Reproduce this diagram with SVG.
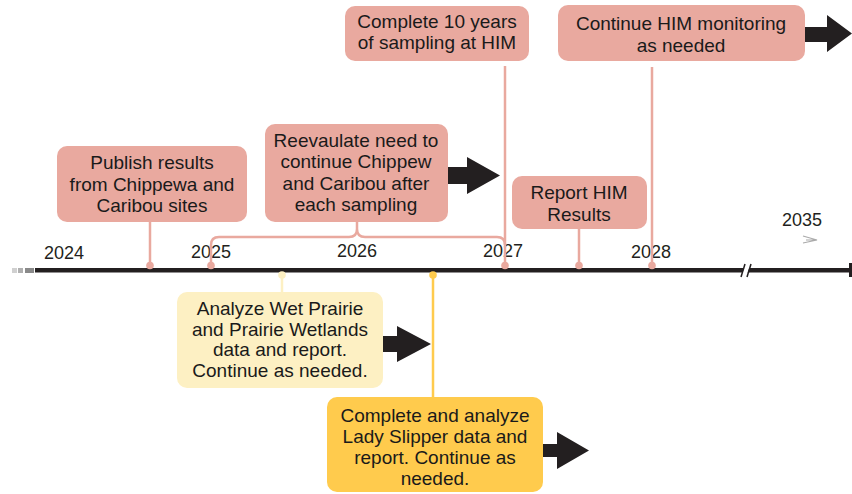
<svg xmlns="http://www.w3.org/2000/svg" width="852" height="494" viewBox="0 0 852 494">
<style>
  .t{font-family:"Liberation Sans",Arial,sans-serif;font-size:19px;fill:#1a1a1a;text-anchor:middle}
  .yr{font-family:"Liberation Sans",Arial,sans-serif;font-size:18px;fill:#231f20;text-anchor:middle}
  .pk{fill:#e9a99f}
  .ly{fill:#fdf0c3}
  .gd{fill:#ffcb4d}
  .pl{fill:none;stroke:#e9a99f;stroke-width:2.5}
  .arr{fill:#231f20}
</style>
<rect width="852" height="494" fill="#fff"/>
<g id="timeline">
  <rect x="12" y="268" width="5" height="5" fill="#d0d0d0"/>
  <rect x="18" y="268" width="5" height="5" fill="#b0b0b0"/>
  <rect x="25" y="268" width="9" height="5" fill="#8a8a8a"/>
  <rect x="35" y="268" width="815" height="4.5" fill="#231f20"/>
  <rect x="849" y="263" width="3" height="14" fill="#231f20"/>
  <polygon points="741,277 746,263 751,263 746,277" fill="#fff"/>
  <line x1="741" y1="277" x2="745" y2="264" stroke="#231f20" stroke-width="1.5"/>
  <line x1="747" y1="277" x2="751" y2="264" stroke="#231f20" stroke-width="1.5"/>
  <text class="yr" x="64" y="259">2024</text>
  <text class="yr" x="211" y="258">2025</text>
  <text class="yr" x="357" y="257">2026</text>
  <text class="yr" x="503" y="257">2027</text>
  <text class="yr" x="651" y="258">2028</text>
  <text class="yr" x="802" y="226">2035</text>
  <path d="M803,236 L817,240 L803,243 M806,240 H817" fill="none" stroke="#aaa" stroke-width="1.2"/>
</g>
<g id="connectors">
  <line class="pl" x1="150" y1="222" x2="150" y2="265"/>
  <path class="pl" d="M211,266 V245 Q211,237 219,237 H349 Q357,237 357,229 V222 M357,229 Q357,237 365,237 H497 Q505,237 505,245"/>
  <line class="pl" x1="505" y1="66" x2="505" y2="265"/>
  <line class="pl" x1="579" y1="229" x2="579" y2="265"/>
  <line class="pl" x1="652" y1="67" x2="652" y2="265"/>
  <line x1="282" y1="275" x2="282" y2="292" stroke="#fdf0c3" stroke-width="2.5"/>
  <line x1="433" y1="275" x2="433" y2="397" stroke="#ffcb4d" stroke-width="2.5"/>
  <circle class="pk" cx="150" cy="265.5" r="3.8"/>
  <circle class="pk" cx="211" cy="265.5" r="3.8"/>
  <circle class="pk" cx="505" cy="265.5" r="3.8"/>
  <circle class="pk" cx="579" cy="265.5" r="3.8"/>
  <circle class="pk" cx="652" cy="265.5" r="3.8"/>
  <circle class="ly" cx="282" cy="275" r="3.8"/>
  <circle class="gd" cx="433" cy="275" r="3.8"/>
</g>
<g id="publish">
  <rect class="pk" x="57" y="146" width="190" height="76" rx="10"/>
  <text class="t" x="152" y="169">Publish results</text>
  <text class="t" x="152" y="191">from Chippewa and</text>
  <text class="t" x="152" y="212">Caribou sites</text>
</g>
<g id="reevaluate">
  <rect class="pk" x="265" y="124" width="183" height="98" rx="10"/>
  <text class="t" x="356" y="147">Reevaulate need to</text>
  <text class="t" x="356" y="168">continue Chippew</text>
  <text class="t" x="356" y="190">and Caribou after</text>
  <text class="t" x="356" y="211">each sampling</text>
  <polygon class="arr" points="448,167 467,167 467,157 500,175.5 467,194 467,184 448,184"/>
</g>
<g id="complete10">
  <rect class="pk" x="345" y="6" width="184" height="55" rx="10"/>
  <text class="t" x="437" y="28">Complete 10 years</text>
  <text class="t" x="437" y="49">of sampling at HIM</text>
</g>
<g id="continueHIM">
  <rect class="pk" x="558" y="5" width="247" height="56" rx="10"/>
  <text class="t" x="681" y="30">Continue HIM monitoring</text>
  <text class="t" x="681" y="52">as needed</text>
  <polygon class="arr" points="805,27 827,27 827,15 852,33.5 827,52 827,42 805,42"/>
</g>
<g id="reportHIM">
  <rect class="pk" x="512" y="176" width="135" height="53" rx="10"/>
  <text class="t" x="579" y="199">Report HIM</text>
  <text class="t" x="579" y="221">Results</text>
</g>
<g id="wetprairie">
  <rect class="ly" x="177" y="292" width="206" height="96" rx="10"/>
  <text class="t" x="280" y="315">Analyze Wet Prairie</text>
  <text class="t" x="280" y="336">and Prairie Wetlands</text>
  <text class="t" x="280" y="356">data and report.</text>
  <text class="t" x="280" y="377">Continue as needed.</text>
  <polygon class="arr" points="383,336 397,336 397,326 431,344 397,362 397,352 383,352"/>
</g>
<g id="ladyslipper">
  <rect class="gd" x="327" y="397" width="216" height="95" rx="10"/>
  <text class="t" x="435" y="422">Complete and analyze</text>
  <text class="t" x="435" y="443">Lady Slipper data and</text>
  <text class="t" x="435" y="464">report. Continue as</text>
  <text class="t" x="435" y="485">needed.</text>
  <polygon class="arr" points="543,444 557,444 557,432 589,450.5 557,469 557,457 543,457"/>
</g>
</svg>
